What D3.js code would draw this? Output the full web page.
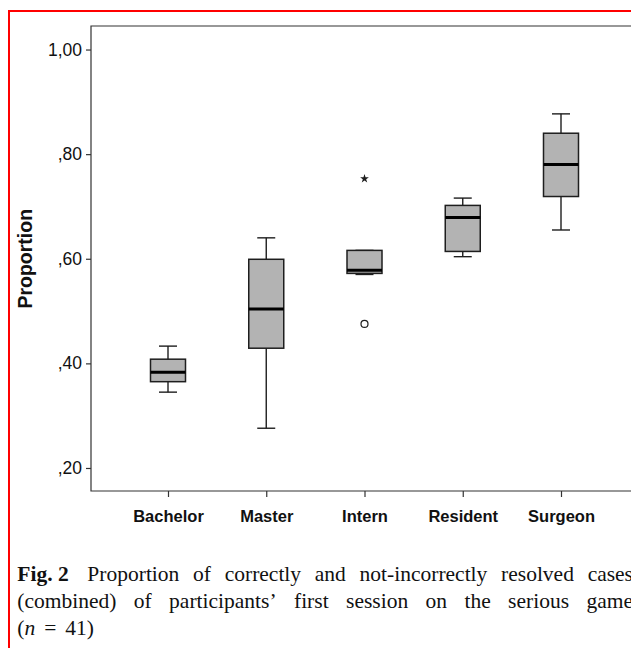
<!DOCTYPE html>
<html>
<head>
<meta charset="utf-8">
<script src="https://cdn.jsdelivr.net/npm/d3@7"></script>
<style>
  body { margin: 0; background: #fff; overflow: hidden; }
</style>
</head>
<body>
<div id="chart"></div>
<script>
// values
const categories = ["Bachelor", "Master", "Intern", "Resident", "Surgeon"];
const whiskerLow  = [0.345, 0.276, 0.570, 0.604, 0.655];
const q1          = [0.365, 0.429, 0.572, 0.614, 0.719];
const median      = [0.383, 0.504, 0.578, 0.679, 0.780];
const q3          = [0.408, 0.599, 0.616, 0.702, 0.840];
const whiskerHigh = [0.433, 0.640, 0.616, 0.716, 0.877];
const outlierCats   = ["Intern", "Intern"];
const outlierValues = [0.4755, 0.753];
const outlierKinds  = ["circle", "star"];
const yTicks = [0.2, 0.4, 0.6, 0.8, 1.0];

const captionLines = [
  ["Proportion", "of", "correctly", "and", "not-incorrectly", "resolved", "cases"],
  ["(combined)", "of", "participants\u2019", "first", "session", "on", "the", "serious", "game"]
];

const boxes = categories.map((c, i) => ({
  cat: c, lo: whiskerLow[i], q1: q1[i], med: median[i], q3: q3[i], hi: whiskerHigh[i]
}));
const outliers = outlierCats.map((c, i) => ({cat: c, value: outlierValues[i], kind: outlierKinds[i]}));

const width = 631, height = 648;
const svg = d3.select("#chart").append("svg")
    .attr("width", width)
    .attr("height", height);

// red frame round the figure
svg.append("rect")
    .attr("x", 9).attr("y", 11)
    .attr("width", 800).attr("height", 800)
    .attr("fill", "none")
    .attr("stroke", "#ff0000")
    .attr("stroke-width", 2);

const plotLeft = 91, plotTop = 26, plotBottom = 491;

const y = d3.scaleLinear()
    .domain([0.156, 1.045])
    .range([plotBottom, plotTop]);

const x = d3.scalePoint()
    .domain(categories)
    .range([168, 561]);

const boxW = 35, capW = 18;
const ink = "#1e1e1e";

// frame lines
svg.append("path")
    .attr("d", `M${width + 5},${plotTop}H${plotLeft}V${plotBottom}H${width + 5}`)
    .attr("fill", "none")
    .attr("stroke", "#333")
    .attr("stroke-width", 1.2);

// y axis
const yAxis = svg.append("g")
    .attr("transform", `translate(${plotLeft},0)`)
    .call(d3.axisLeft(y).tickValues(yTicks).tickSize(5).tickSizeOuter(0).tickPadding(4)
      .tickFormat(d => d === 1 ? "1,00" : "," + d3.format(".2f")(d).slice(2)));
yAxis.select(".domain").remove();
yAxis.selectAll(".tick line").attr("stroke", "#333").attr("stroke-width", 1.2);
yAxis.selectAll(".tick text")
    .attr("font-family", "Liberation Sans, Arial, sans-serif")
    .attr("font-size", 17.5)
    .attr("fill", "#111");

// x axis
const xAxis = svg.append("g")
    .attr("transform", `translate(0,${plotBottom})`)
    .call(d3.axisBottom(x).tickSize(6).tickPadding(13));
xAxis.select(".domain").remove();
xAxis.selectAll(".tick line").attr("stroke", "#333").attr("stroke-width", 1.2);
xAxis.selectAll(".tick text")
    .attr("font-family", "Liberation Sans, Arial, sans-serif")
    .attr("font-size", 16.5)
    .attr("font-weight", "bold")
    .attr("fill", "#111");

// y title
svg.append("text")
    .attr("transform", `translate(32,${y(0.6)}) rotate(-90)`)
    .attr("text-anchor", "middle")
    .attr("font-family", "Liberation Sans, Arial, sans-serif")
    .attr("font-size", 19.5)
    .attr("font-weight", "bold")
    .attr("fill", "#111")
    .text("Proportion");

// boxes
const g = svg.append("g");
const bg = g.selectAll("g.box")
  .data(boxes)
  .join("g")
    .attr("class", "box");

bg.append("line")
    .attr("x1", d => x(d.cat)).attr("x2", d => x(d.cat))
    .attr("y1", d => y(d.lo)).attr("y2", d => y(d.hi))
    .attr("stroke", ink).attr("stroke-width", 1.4);

bg.append("line")
    .attr("x1", d => x(d.cat) - capW / 2).attr("x2", d => x(d.cat) + capW / 2)
    .attr("y1", d => y(d.lo)).attr("y2", d => y(d.lo))
    .attr("stroke", ink).attr("stroke-width", 1.4);

bg.append("line")
    .attr("x1", d => x(d.cat) - capW / 2).attr("x2", d => x(d.cat) + capW / 2)
    .attr("y1", d => y(d.hi)).attr("y2", d => y(d.hi))
    .attr("stroke", ink).attr("stroke-width", 1.4);

bg.append("rect")
    .attr("x", d => x(d.cat) - boxW / 2)
    .attr("y", d => y(d.q3))
    .attr("width", boxW)
    .attr("height", d => y(d.q1) - y(d.q3))
    .attr("fill", "#b3b3b3")
    .attr("stroke", ink)
    .attr("stroke-width", 1.5);

bg.append("line")
    .attr("x1", d => x(d.cat) - boxW / 2).attr("x2", d => x(d.cat) + boxW / 2)
    .attr("y1", d => y(d.med)).attr("y2", d => y(d.med))
    .attr("stroke", "#000").attr("stroke-width", 3);

// outliers
g.selectAll("circle.out")
  .data(outliers.filter(d => d.kind === "circle"))
  .join("circle")
    .attr("class", "out")
    .attr("cx", d => x(d.cat))
    .attr("cy", d => y(d.value))
    .attr("r", 3.5)
    .attr("fill", "#fff")
    .attr("stroke", ink)
    .attr("stroke-width", 1.2);

g.selectAll("path.star")
  .data(outliers.filter(d => d.kind === "star"))
  .join("path")
    .attr("class", "star")
    .attr("transform", d => `translate(${x(d.cat)},${y(d.value)})`)
    .attr("d", d3.symbol(d3.symbolStar, 24))
    .attr("fill", ink);

// caption, justified line by line
const capX = 17.3, capRight = 633, capSize = 21.5;
const capFont = "Liberation Serif, Times New Roman, serif";
const capBase = [581, 608, 635];

captionLines.forEach((words, li) => {
  const t = svg.append("g");
  const items = [];
  if (li === 0) items.push({w: "Fig. 2", bold: true});
  words.forEach(w => items.push({w: w, bold: false}));
  const nodes = items.map(it => t.append("text")
      .attr("y", capBase[li])
      .attr("font-family", capFont)
      .attr("font-size", capSize)
      .attr("font-weight", it.bold ? "bold" : "normal")
      .attr("fill", "#111")
      .text(it.w));
  const widths = nodes.map(n => n.node().getComputedTextLength());
  const extra = li === 0 ? 5 : 0;
  const gap = (capRight - capX - d3.sum(widths) - extra) / (items.length - 1);
  let cx = capX;
  nodes.forEach((n, i) => {
    n.attr("x", cx);
    cx += widths[i] + gap + (li === 0 && i === 0 ? extra : 0);
  });
});

const last = svg.append("text")
    .attr("x", capX)
    .attr("y", capBase[2])
    .attr("font-family", capFont)
    .attr("font-size", capSize)
    .attr("fill", "#111");
last.append("tspan").text("(");
last.append("tspan").attr("font-style", "italic").text("n");
last.append("tspan").attr("dx", 9).attr("transform", "scale(1.2,1)").text("=");
last.append("tspan").attr("dx", 9).text("41)");
</script>
</body>
</html>
